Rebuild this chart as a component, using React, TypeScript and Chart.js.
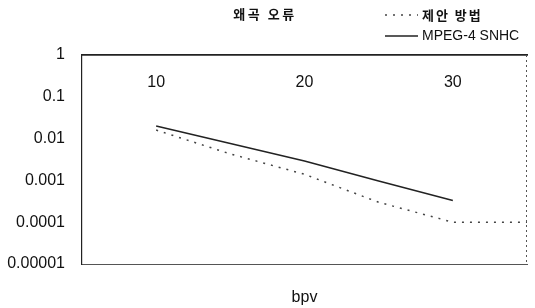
import React, { useEffect, useRef } from "react";
import { Chart, registerables } from "chart.js";

Chart.register(...registerables);

const TITLE = "왜곡 오류";
const X_TITLE = "bpv";
const X_TICKS = [10, 20, 30];
const Y_TICKS = [1, 0.1, 0.01, 0.001, 0.0001, 0.00001];
const Y_TICK_LABELS = ["1", "0.1", "0.01", "0.001", "0.0001", "0.00001"];

const PROPOSED_LABEL = "제안 방법";
const PROPOSED_BPV = [10, 15, 20, 25, 30, 35];
const PROPOSED_ERR = [0.016, 0.0043, 0.0014, 0.0003, 0.0001, 0.0001];

const MPEG_LABEL = "MPEG-4 SNHC";
const MPEG_BPV = [10, 15, 20, 25, 30];
const MPEG_ERR = [0.02, 0.0076, 0.0029, 0.00097, 0.00033];

const SANS = "'Liberation Sans', Arial, sans-serif";
const KR = "'Noto Sans CJK KR', sans-serif";

const headerPlugin = {
  id: "header",
  afterDraw(chart: any) {
    const ctx = chart.ctx as CanvasRenderingContext2D;
    const area = chart.chartArea;
    ctx.save();
    // right frame edge (dotted)
    ctx.beginPath();
    ctx.strokeStyle = "#555";
    ctx.lineWidth = 1;
    ctx.setLineDash([2, 3]);
    const rx = Math.round(area.right) - 0.5;
    ctx.moveTo(rx, area.top);
    ctx.lineTo(rx, area.bottom);
    ctx.stroke();
    ctx.setLineDash([]);

    ctx.fillStyle = "#111";
    ctx.textBaseline = "middle";
    ctx.textAlign = "center";
    ctx.font = `bold 13px ${KR}`;
    (ctx as any).letterSpacing = "2.5px";
    ctx.fillText(TITLE, 265, 14);

    const rows = [
      { y: 15, font: `bold 13px ${KR}`, spacing: "2px" },
      { y: 36, font: `14px ${SANS}`, spacing: "0px" },
    ];
    chart.data.datasets.forEach((ds: any, i: number) => {
      const r = rows[i];
      ctx.beginPath();
      ctx.strokeStyle = ds.borderColor;
      ctx.lineWidth = ds.borderWidth;
      ctx.setLineDash(ds.borderDash || []);
      ctx.moveTo(385, r.y);
      ctx.lineTo(418, r.y);
      ctx.stroke();
      ctx.setLineDash([]);
      ctx.textAlign = "left";
      ctx.font = r.font;
      (ctx as any).letterSpacing = r.spacing;
      ctx.fillStyle = "#111";
      ctx.fillText(ds.label, 422, r.y);
    });
    ctx.restore();
  },
};

export default function App() {
  const ref = useRef<HTMLCanvasElement | null>(null);
  useEffect(() => {
    if (!ref.current) return;
    const chart = new Chart(ref.current, {
      type: "line",
      data: {
        datasets: [
          {
            label: PROPOSED_LABEL,
            data: PROPOSED_BPV.map((x, i) => ({ x, y: PROPOSED_ERR[i] })),
            borderColor: "#444",
            borderWidth: 1.5,
            borderDash: [2, 6],
            pointRadius: 0,
            tension: 0,
            xAxisID: "x",
            yAxisID: "y",
          },
          {
            label: MPEG_LABEL,
            data: MPEG_BPV.map((x, i) => ({ x, y: MPEG_ERR[i] })),
            borderColor: "#222",
            borderWidth: 1.5,
            pointRadius: 0,
            tension: 0,
            xAxisID: "x",
            yAxisID: "y",
          },
        ],
      },
      options: {
        responsive: false,
        animation: false,
        layout: { padding: { top: 55, right: 8, left: 0, bottom: 0 } },
        plugins: {
          legend: { display: false },
          title: { display: false },
          tooltip: { enabled: false },
        },
        scales: {
          x: {
            type: "linear",
            position: "bottom",
            min: 5,
            max: 35,
            grid: { display: false, drawTicks: false },
            border: { display: true, color: "#555", width: 1, dash: [3, 2] },
            ticks: { display: false },
            title: {
              display: true,
              text: X_TITLE,
              color: "#111",
              font: { family: SANS, size: 16 },
              padding: { top: 0, bottom: 1 },
            },
            afterFit: (s: any) => {
              s.height = 44;
            },
          },
          xTop: {
            type: "linear",
            position: "top",
            min: 5,
            max: 35,
            grid: { display: false, drawTicks: false },
            border: { display: true, color: "#222", width: 1.8 },
            afterBuildTicks: (s: any) => {
              s.ticks = X_TICKS.map((v) => ({ value: v }));
            },
            ticks: {
              mirror: true,
              padding: 18,
              color: "#111",
              font: { family: SANS, size: 16 },
              maxRotation: 0,
            },
            afterFit: (s: any) => {
              s.height = 0;
            },
          },
          y: {
            type: "logarithmic",
            position: "left",
            min: 0.00001,
            max: 1,
            grid: { display: false, drawTicks: false },
            border: { display: true, color: "#222", width: 1.2 },
            afterBuildTicks: (s: any) => {
              s.ticks = Y_TICKS.map((v) => ({ value: v }));
            },
            ticks: {
              padding: 17,
              color: "#111",
              font: { family: SANS, size: 16 },
              callback: (_v: any, i: number) => Y_TICK_LABELS[i],
            },
            afterFit: (s: any) => {
              s.width = 82;
            },
          },
        },
      } as any,
      plugins: [headerPlugin],
    });
    return () => chart.destroy();
  }, []);
  return (
    <div style={{ position: "absolute", left: 0, top: 0, width: 535, height: 308, background: "#fff" }}>
      <canvas ref={ref} width={535} height={308} style={{ display: "block" }} />
    </div>
  );
}
